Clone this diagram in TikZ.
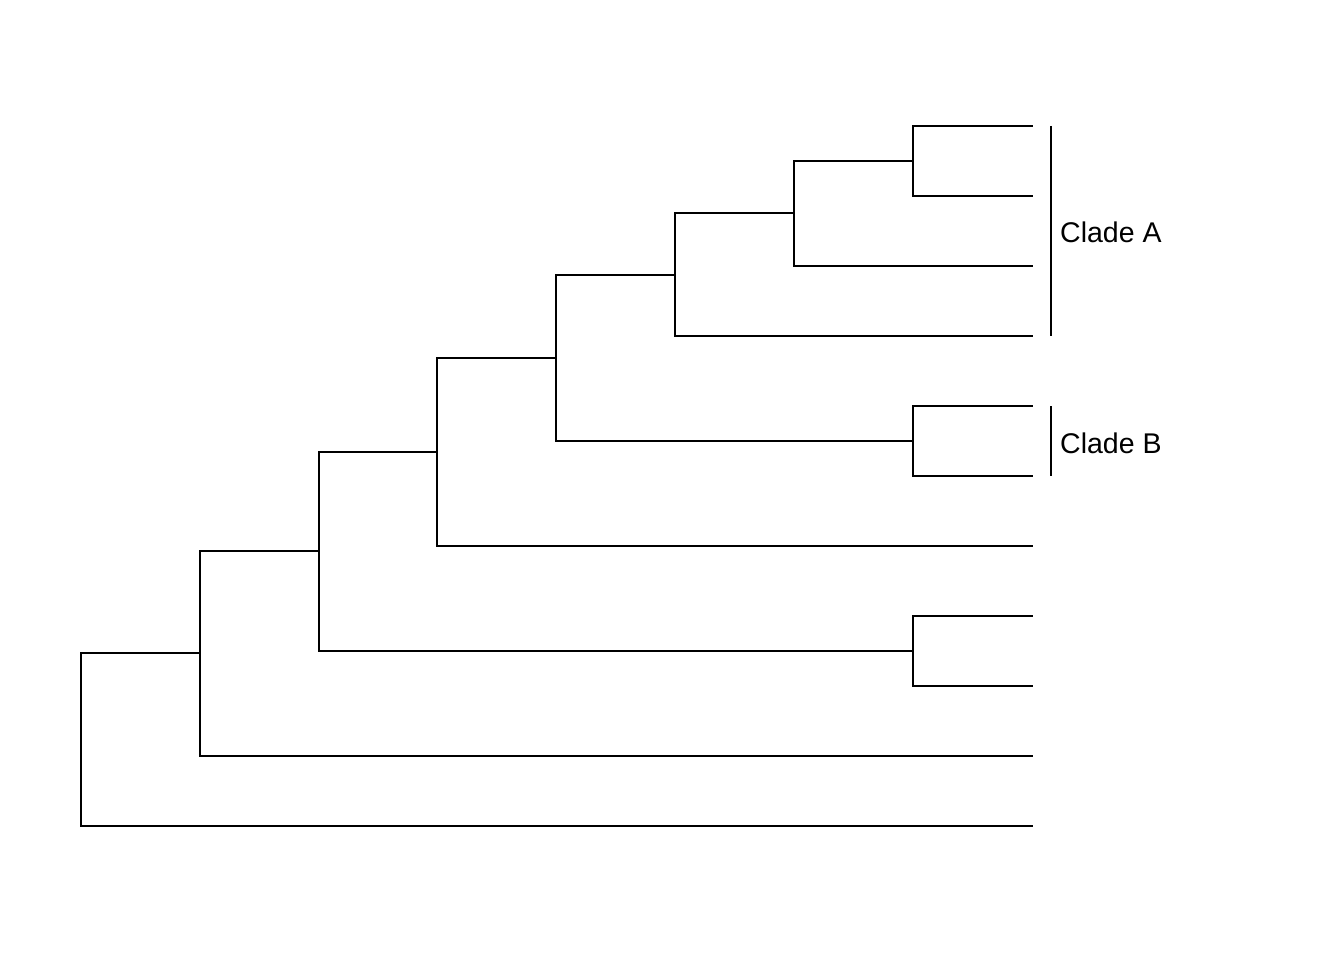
\documentclass[tikz,border=0pt]{standalone}
\usepackage{fontspec}
\setmainfont{Liberation Sans}
\begin{document}
\begin{tikzpicture}[x=1pt,y=-1pt,
  branch/.style={line width=1.6pt,line cap=rect},
  cladebar/.style={line width=1.6pt},
  cladelabel/.style={anchor=base west,inner sep=0pt,font=\fontsize{28.5}{31}\selectfont}]
\useasboundingbox (0,0) rectangle (1344,960);
% tips
\coordinate (t1) at (1032,126);
\coordinate (t2) at (1032,196);
\coordinate (t3) at (1032,266);
\coordinate (t4) at (1032,336);
\coordinate (t5) at (1032,406);
\coordinate (t6) at (1032,476);
\coordinate (t7) at (1032,546);
\coordinate (t8) at (1032,616);
\coordinate (t9) at (1032,686);
\coordinate (t10) at (1032,756);
\coordinate (t11) at (1032,826);
% internal nodes
\coordinate (n1) at (913,161);
\coordinate (n2) at (794,213);
\coordinate (n3) at (675,275);
\coordinate (n4) at (913,441);
\coordinate (n5) at (556,358);
\coordinate (n6) at (437,452);
\coordinate (n7) at (913,651);
\coordinate (n8) at (319,551);
\coordinate (n9) at (200,653);
\coordinate (r) at (81,653);
% edges (rectangular)
\draw[branch] (t1) -| (n1) |- (t2);
\draw[branch] (n1) -| (n2) |- (t3);
\draw[branch] (n2) -| (n3) |- (t4);
\draw[branch] (t5) -| (n4) |- (t6);
\draw[branch] (n3) -| (n5) |- (n4);
\draw[branch] (n5) -| (n6) |- (t7);
\draw[branch] (t8) -| (n7) |- (t9);
\draw[branch] (n6) -| (n8) |- (n7);
\draw[branch] (n8) -| (n9) |- (t10);
\draw[branch] (n9) -| (r) |- (t11);
% clade bars
\coordinate (a1) at (1051,126);
\coordinate (a2) at (1051,336);
\coordinate (b1) at (1051,406);
\coordinate (b2) at (1051,476);
\draw[cladebar] (a1) -- (a2);
\draw[cladebar] (b1) -- (b2);
\node[cladelabel] (la) at (1060,243) {Clade A};
\node[cladelabel] (lb) at (1060,453) {Clade B};
\end{tikzpicture}
\end{document}
